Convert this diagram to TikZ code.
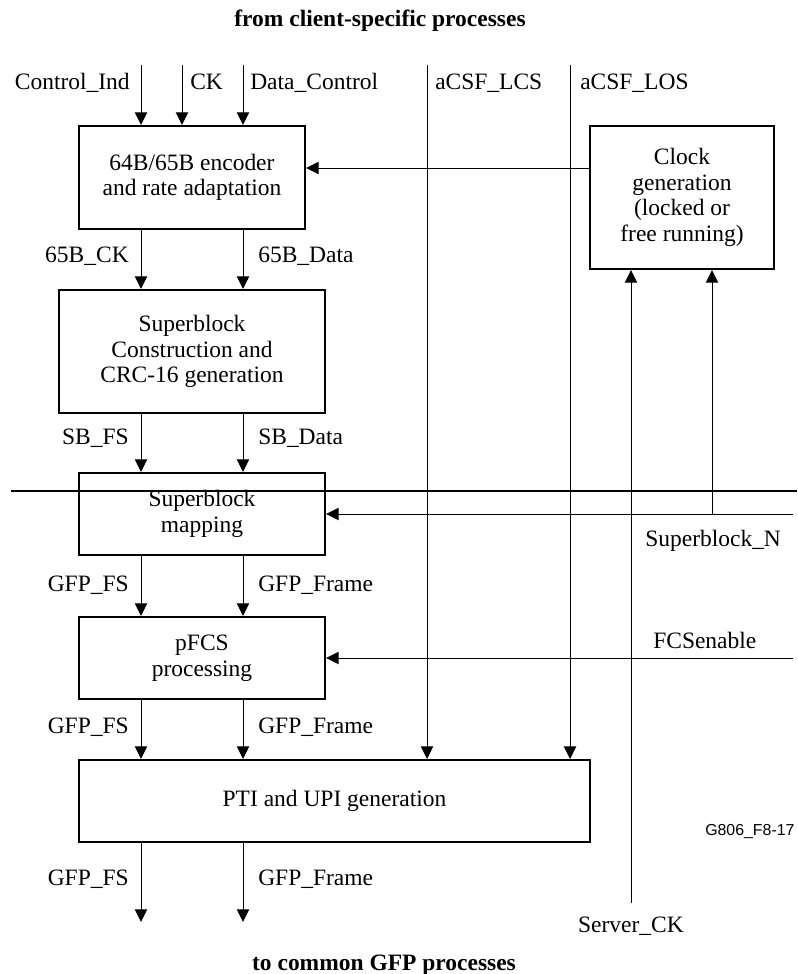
\documentclass[tikz,border=0pt]{standalone}
\usepackage{fontspec}
\setmainfont{Liberation Serif}
\newfontfamily\figfont{Liberation Sans}
\usetikzlibrary{arrows.meta}

\begin{document}
\begin{tikzpicture}[x=0.025cm,y=-0.025cm,
	font=\fontsize{16.7}{18.2}\selectfont,
	box/.style={draw,line width=1.4pt,align=center,inner sep=0pt},
	sig/.style={line width=0.7pt},
	arr/.style={sig,-{Triangle[length=9pt,width=8.8pt]}},
	lbl/.style={inner sep=0pt},
	hdr/.style={inner sep=0pt,font=\fontsize{16.7}{18.2}\selectfont\bfseries}]
	\useasboundingbox (0,0) rectangle (797,974);

	\node[hdr,anchor=base] (from) at (380,26) {from client-specific processes};

	\node[box,minimum width=5.65cm,minimum height=2.575cm] (enc) at (192,177.5)
		{64B/65B encoder\\and rate adaptation};
	\node[box,minimum width=4.6cm,minimum height=3.575cm] (clk) at (682,197.5)
		{Clock\\generation\\(locked or\\free running)};
	\node[box,minimum width=6.65cm,minimum height=3.075cm] (sbc) at (192,351.5)
		{Superblock\\Construction and\\CRC-16 generation};
	\node[box,minimum width=6.15cm,minimum height=2.05cm] (sbm) at (202,514)
		{Superblock\\mapping};
	\node[box,minimum width=6.15cm,minimum height=2.05cm] (pfcs) at (202,658)
		{pFCS\\processing};
	\node[box,minimum width=12.775cm,minimum height=2.05cm] (pti) at (334.5,801)
		{PTI and UPI generation};

	\coordinate (ci) at (141,65);
	\coordinate (ck) at (182,65);
	\coordinate (dc) at (243,65);
	\coordinate (lcs) at (427,65);
	\coordinate (los) at (570,65);
	\coordinate (clkout) at (590,168);
	\coordinate (sbn) at (793,514);
	\coordinate (sbnup) at (712,514);
	\coordinate (fcs) at (793,658);
	\coordinate (srv) at (631,903);
	\coordinate (fs) at (141,922);
	\coordinate (fr) at (243,922);
	\coordinate (hl) at (11,491);
	\coordinate (hr) at (797,491);

	\draw[line width=1.4pt] (hl) -- (hr);

	\draw[arr] (ci) -- (ci |- enc.north);
	\draw[arr] (ck) -- (ck |- enc.north);
	\draw[arr] (dc) -- (dc |- enc.north);
	\draw[arr] (clkout) -- (clkout -| enc.east);
	\foreach \a/\b in {enc/sbc,sbc/sbm,sbm/pfcs,pfcs/pti} {
		\draw[arr] (ci |- \a.south) -- (ci |- \b.north);
		\draw[arr] (dc |- \a.south) -- (dc |- \b.north);
	}
	\draw[arr] (lcs) -- (lcs |- pti.north);
	\draw[arr] (los) -- (los |- pti.north);
	\draw[arr] (sbn) -- (sbn -| sbm.east);
	\draw[arr] (sbnup) -- (sbnup |- clk.south);
	\draw[arr] (fcs) -- (fcs -| pfcs.east);
	\draw[arr] (srv) -- (srv |- clk.south);
	\draw[arr] (ci |- pti.south) -- (fs);
	\draw[arr] (dc |- pti.south) -- (fr);

	\node[lbl,anchor=base east] (lci) at (130,89) {Control\_Ind};
	\node[lbl,anchor=base west] (lck) at (190,89) {CK};
	\node[lbl,anchor=base west] (ldc) at (250,89) {Data\_Control};
	\node[lbl,anchor=base west] (llcs) at (435,89) {aCSF\_LCS};
	\node[lbl,anchor=base west] (llos) at (580,89) {aCSF\_LOS};
	\node[lbl,anchor=base east] (l65ck) at (129,262) {65B\_CK};
	\node[lbl,anchor=base west] (l65d) at (258,262) {65B\_Data};
	\node[lbl,anchor=base east] (lsbfs) at (129,444) {SB\_FS};
	\node[lbl,anchor=base west] (lsbd) at (258,444) {SB\_Data};
	\node[lbl,anchor=base west] (lsbn) at (645,546) {Superblock\_N};
	\node[lbl,anchor=base east] (lfs1) at (129,591) {GFP\_FS};
	\node[lbl,anchor=base west] (lfr1) at (258,591) {GFP\_Frame};
	\node[lbl,anchor=base west] (lfcs) at (653,648) {FCSenable};
	\node[lbl,anchor=base east] (lfs2) at (129,733) {GFP\_FS};
	\node[lbl,anchor=base west] (lfr2) at (258,733) {GFP\_Frame};
	\node[lbl,anchor=base east] (lfs3) at (129,885) {GFP\_FS};
	\node[lbl,anchor=base west] (lfr3) at (258,885) {GFP\_Frame};
	\node[lbl,anchor=base] (lsrv) at (631,932) {Server\_CK};
	\node[lbl,anchor=base west,font=\figfont\fontsize{11.3}{13}\selectfont] (fig) at (705,835) {G806\_F8-17};

	\node[hdr,anchor=base] (to) at (384,970) {to common GFP processes};
\end{tikzpicture}
\end{document}
